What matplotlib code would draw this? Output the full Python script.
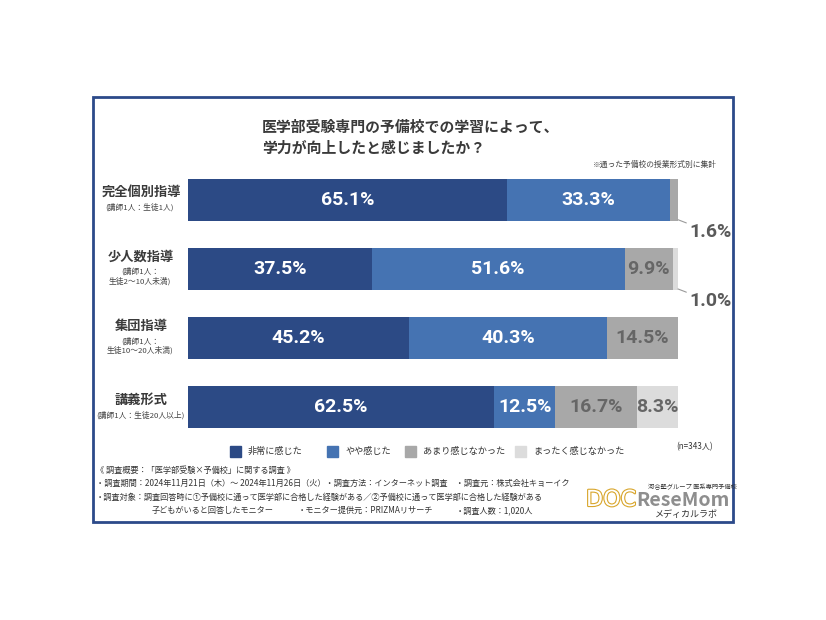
"""Stacked horizontal bar chart: 医学部受験専門の予備校での学習による学力向上の実感."""

import matplotlib.pyplot as plt
import matplotlib.patheffects as pe
from matplotlib.patches import Rectangle

plt.rcParams["font.family"] = ["Noto Sans CJK JP", "DejaVu Sans"]

W, H = 826, 620

categories = ["完全個別指導", "少人数指導", "集団指導", "講義形式"]
sublabels = [
    "(講師1人：生徒1人)",
    "(講師1人：\n生徒2〜10人未満)",
    "(講師1人：\n生徒10〜20人未満)",
    "(講師1人：生徒20人以上)",
]
responses = ["非常に感じた", "やや感じた", "あまり感じなかった", "まったく感じなかった"]
very = [65.1, 37.5, 45.2, 62.5]
somewhat = [33.3, 51.6, 40.3, 12.5]
not_much = [1.6, 9.9, 14.5, 16.7]
not_at_all = [0.0, 1.0, 0.0, 8.3]

colors = ["#2c4a85", "#4573b2", "#a8a8a8", "#dcdcdc"]
text_colors = ["white", "white", "#666666", "#666666"]

footer = [
    "《 調査概要：「医学部受験×予備校」に関する調査 》",
    "・調査期間：2024年11月21日（木）～ 2024年11月26日（火）・調査方法：インターネット調査　・調査元：株式会社キョーイク",
    "・調査対象：調査回答時に①予備校に通って医学部に合格した経験がある／②予備校に通って医学部に合格した経験がある",
]
footer_last = ["子どもがいると回答したモニター", "・モニター提供元：PRIZMAリサーチ", "・調査人数：1,020人"]


def fx(x):
    return x / W


def fy(y):
    return 1 - y / H


fig = plt.figure(figsize=(W / 100, H / 100), dpi=100)

# outer frame
fig.patches.append(Rectangle((fx(93), fy(522)), fx(733) - fx(93), fy(97) - fy(522),
                             transform=fig.transFigure, fill=False,
                             edgecolor="#2c4a8a", linewidth=2))

# bars
ax = fig.add_axes([fx(188), fy(442), fx(678) - fx(188), fy(165) - fy(442)])
series = [very, somewhat, not_much, not_at_all]
y = list(range(len(categories)))
left = [0.0] * len(categories)
for vals, c, tc in zip(series, colors, text_colors):
    ax.barh(y, vals, left=left, height=0.61, color=c, edgecolor="none")
    for i, v in enumerate(vals):
        if v >= 5:
            ax.text(left[i] + v / 2, i, f"{v:.1f}%", ha="center", va="center",
                    color=tc, fontsize=14, fontweight="bold", family="Roboto")
        elif v > 0:
            # small slices are labelled outside with a leader line
            ax.annotate(f"{v:.1f}%", xy=(left[i] + v, i + 0.29),
                        xytext=(8, -9), textcoords="offset points",
                        ha="left", va="center", color="#5a5a5a",
                        fontsize=14, fontweight="bold", family="Roboto",
                        arrowprops=dict(arrowstyle="-", color="#9a9a9a", lw=0.8,
                                        shrinkA=0, shrinkB=0))
    left = [l + v for l, v in zip(left, vals)]
ax.set_xlim(0, 100)
ax.set_ylim(len(categories) - 0.5, -0.5)
ax.axis("off")

# category labels
for i, (cat, sub) in enumerate(zip(categories, sublabels)):
    yc = ax.transData.transform((0, i))[1] / fig.bbox.height
    nlines = sub.count("\n") + 1
    off = 0.012 if nlines == 1 else 0.02
    fig.text(fx(141), yc + off, cat, ha="center", va="center", fontsize=9.5,
             fontweight="bold", color="#3a3a3a")
    fig.text(fx(140), yc + off - 0.018, sub, ha="center", va="top", fontsize=5.6,
             color="#444444", linespacing=1.15)

# title
fig.text(fx(262), fy(127), "医学部受験専門の予備校での学習によって、", ha="left", va="center",
         fontsize=10.7, fontweight="bold", color="#3a3a3a")
fig.text(fx(262), fy(148), "学力が向上したと感じましたか？", ha="left", va="center",
         fontsize=10.7, fontweight="bold", color="#3a3a3a")
fig.text(fx(717), fy(165), "※通った予備校の授業形式別に集計", ha="right", va="center",
         fontsize=5.6, color="#444444")

# legend
leg_x = [230, 327, 405, 515]
for lx, lab, c in zip(leg_x, responses, colors):
    fig.patches.append(Rectangle((fx(lx), fy(457)), fx(11), 11 / H,
                                 transform=fig.transFigure, color=c))
    fig.text(fx(lx + 18), fy(451), lab, ha="left", va="center", fontsize=6.6,
             color="#333333")
fig.text(fx(713), fy(447), "(n=343人)", ha="right", va="center", fontsize=5.8,
         color="#333333")

# footer
for k, line in enumerate(footer):
    fig.text(fx(96), fy(470 + 13.5 * k), line, ha="left", va="center",
             fontsize=5.9, color="#333333")
for xx, txt in zip([152, 298, 456], footer_last):
    fig.text(fx(xx), fy(510.5), txt, ha="left", va="center", fontsize=5.9,
             color="#333333")

# logo
fig.text(fx(586), fy(500), "DOC", ha="left", va="center", fontsize=16,
         color="white", family="DejaVu Sans",
         path_effects=[pe.withStroke(linewidth=1.6, foreground="#d8a52a")])
fig.text(fx(648), fy(487), "河合塾グループ 医系専門予備校", ha="left", va="center",
         fontsize=4.5, color="#333333")
fig.text(fx(636), fy(500), "ReseMom", ha="left", va="center", fontsize=14,
         fontweight="bold", color="#7a7a7a", alpha=0.85)
fig.text(fx(655), fy(514), "メディカルラボ", ha="left", va="center", fontsize=6.5,
         color="#333333")

fig.savefig("out.png", dpi=100, facecolor="white")
